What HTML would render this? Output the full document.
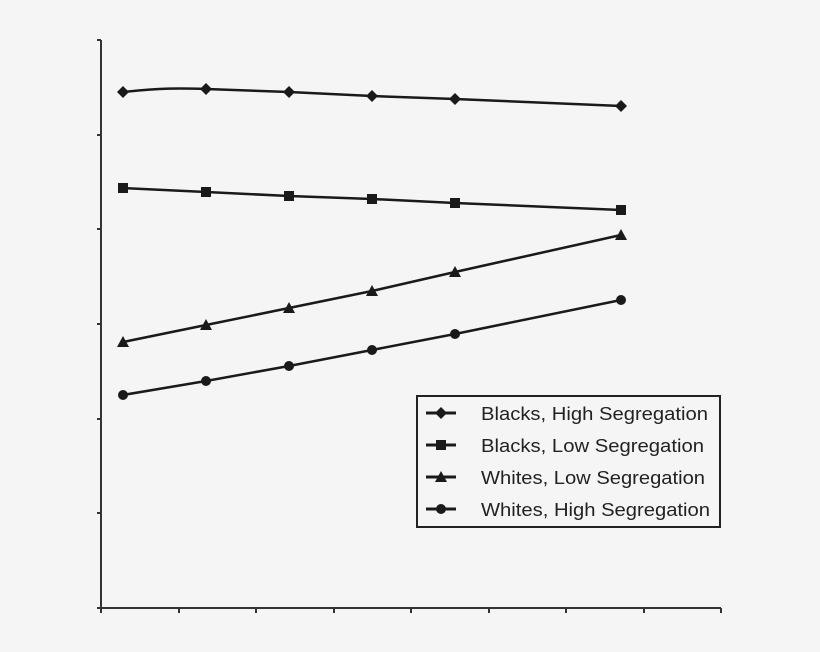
<!DOCTYPE html>
<html><head><style>body{margin:0;background:#f5f5f5}svg{display:block}</style></head><body>
<svg width="820" height="652" xmlns="http://www.w3.org/2000/svg">
<defs>
<g id="d"><polygon points="0,-6 6,0 0,6 -6,0" fill="#1a1a1a"/></g>
<g id="s"><rect x="-5" y="-5" width="10" height="10" fill="#1a1a1a"/></g>
<g id="t"><polygon points="0,-6 6,5 -6,5" fill="#1a1a1a"/></g>
<g id="c"><circle r="5" fill="#1a1a1a"/></g>
</defs>
<rect width="820" height="652" fill="#f5f5f5"/>
<g stroke="#333" stroke-width="2" fill="none">
<line x1="101" y1="40" x2="101" y2="608"/>
<line x1="97" y1="608" x2="721" y2="608"/>
<path d="M97 40H101M97 135H101M97 229H101M97 324H101M97 419H101M97 513H101M97 608H101"/>
<path d="M101 608V613M179 608V613M256 608V613M334 608V613M411 608V613M489 608V613M566 608V613M644 608V613M721 608V613"/>
</g>
<g stroke="#1a1a1a" stroke-width="2.5" fill="none">
<path d="M123 92 C160 88,180 88,206 89 L289 92 L372 96 L455 99 L621 106"/>
<polyline points="123,188 206,192 289,196 372,199 455,203 621,210"/>
<polyline points="123,342 206,325 289,308 372,291 455,272 621,235"/>
<polyline points="123,395 206,381 289,366 372,350 455,334 621,300"/>
</g>
<use href="#d" x="123" y="92"/><use href="#d" x="206" y="89"/><use href="#d" x="289" y="92"/><use href="#d" x="372" y="96"/><use href="#d" x="455" y="99"/><use href="#d" x="621" y="106"/>
<use href="#s" x="123" y="188"/><use href="#s" x="206" y="192"/><use href="#s" x="289" y="196"/><use href="#s" x="372" y="199"/><use href="#s" x="455" y="203"/><use href="#s" x="621" y="210"/>
<use href="#t" x="123" y="342"/><use href="#t" x="206" y="325"/><use href="#t" x="289" y="308"/><use href="#t" x="372" y="291"/><use href="#t" x="455" y="272"/><use href="#t" x="621" y="235"/>
<use href="#c" x="123" y="395"/><use href="#c" x="206" y="381"/><use href="#c" x="289" y="366"/><use href="#c" x="372" y="350"/><use href="#c" x="455" y="334"/><use href="#c" x="621" y="300"/>
<rect x="417" y="396" width="303" height="131" fill="#f5f5f5" stroke="#222" stroke-width="2"/>
<g stroke="#1a1a1a" stroke-width="3">
<line x1="426" y1="413" x2="456" y2="413"/><line x1="426" y1="445" x2="456" y2="445"/>
<line x1="426" y1="477" x2="456" y2="477"/><line x1="426" y1="509" x2="456" y2="509"/>
</g>
<use href="#d" x="441" y="413"/><use href="#s" x="441" y="445"/><use href="#t" x="441" y="477"/><use href="#c" x="441" y="509"/>
<g font-family="Liberation Sans, sans-serif" font-size="18.5" fill="#222">
<text x="481" y="420" textLength="227" lengthAdjust="spacingAndGlyphs">Blacks, High Segregation</text>
<text x="481" y="452" textLength="223" lengthAdjust="spacingAndGlyphs">Blacks, Low Segregation</text>
<text x="481" y="484" textLength="224" lengthAdjust="spacingAndGlyphs">Whites, Low Segregation</text>
<text x="481" y="516" textLength="229" lengthAdjust="spacingAndGlyphs">Whites, High Segregation</text>
</g>
</svg>
</body></html>
